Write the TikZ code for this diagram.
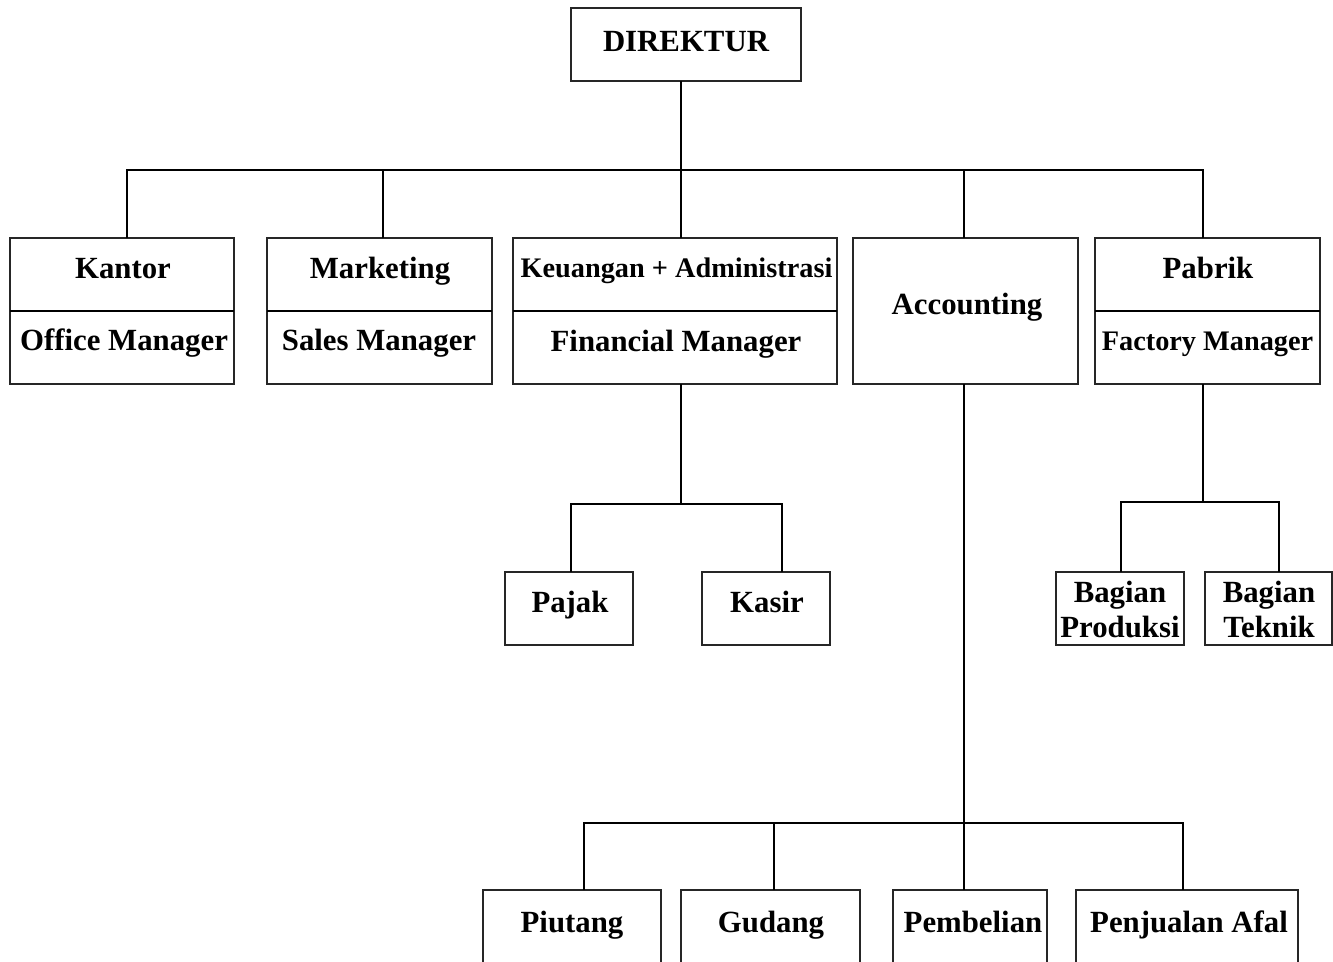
\documentclass[tikz,border=0pt]{standalone}
\usepackage{fontspec}
\setmainfont{Liberation Serif}
\begin{document}
\begin{tikzpicture}[x=1pt,y=-1pt,
  box/.style={draw=black!85,line width=1.8pt,inner sep=0pt,outer sep=0pt,rectangle},
  lbl/.style={anchor=base,inner sep=0pt,font=\fontsize{30.8}{35}\selectfont\bfseries},
  slbl/.style={anchor=base,inner sep=0pt,font=\fontsize{28.3}{33}\selectfont\bfseries},
  conn/.style={line width=1.8pt,black}]
\useasboundingbox (0,0) rectangle (1333,961);
\clip (0,0) rectangle (1333,961);
% boxes
\node[box,minimum width=230,minimum height=73] (dir) at (686,44.5) {};
\node[box,minimum width=224,minimum height=146] (kantor) at (122,311) {};
\node[box,minimum width=225,minimum height=146] (mkt) at (379.5,311) {};
\node[box,minimum width=324,minimum height=146] (keu) at (675,311) {};
\node[box,minimum width=225,minimum height=146] (acc) at (965.5,311) {};
\node[box,minimum width=225,minimum height=146] (pab) at (1207.5,311) {};
\node[box,minimum width=128,minimum height=73] (pajak) at (569,608.5) {};
\node[box,minimum width=128,minimum height=73] (kasir) at (766,608.5) {};
\node[box,minimum width=128,minimum height=73] (prod) at (1120,608.5) {};
\node[box,minimum width=127,minimum height=73] (tek) at (1268.5,608.5) {};
\node[box,minimum width=178,minimum height=110] (piu) at (572,945) {};
\node[box,minimum width=179,minimum height=110] (gud) at (770.5,945) {};
\node[box,minimum width=154,minimum height=110] (pem) at (970,945) {};
\node[box,minimum width=222,minimum height=110] (pen) at (1187,945) {};
% dividers
\draw[conn] (kantor.west) -- (kantor.east);
\draw[conn] (mkt.west) -- (mkt.east);
\draw[conn] (keu.west) -- (keu.east);
\draw[conn] (pab.west) -- (pab.east);
% labels
\node[lbl] (tdir) at (686,51) {DIREKTUR};
\node[lbl] (t1a) at (123,278) {Kantor};
\node[lbl] (t1b) at (124,350) {Office Manager};
\node[lbl] (t2a) at (380,278) {Marketing};
\node[lbl] (t2b) at (379,350) {Sales Manager};
\node[slbl] (t3a) at (676.5,277) {Keuangan + Administrasi};
\node[lbl] (t3b) at (676,351) {Financial Manager};
\node[lbl] (t4) at (967,314) {Accounting};
\node[lbl] (t5a) at (1208,278) {Pabrik};
\node[slbl] (t5b) at (1207.5,350) {Factory Manager};
\node[lbl] (tpj) at (570,612) {Pajak};
\node[lbl] (tks) at (767,612) {Kasir};
\node[lbl] (tpr1) at (1120,602) {Bagian};
\node[lbl] (tpr2) at (1120,637) {Produksi};
\node[lbl] (ttk1) at (1269,602) {Bagian};
\node[lbl] (ttk2) at (1269,637) {Teknik};
\node[lbl] (tpiu) at (572,932) {Piutang};
\node[lbl] (tgud) at (771,932) {Gudang};
\node[lbl] (tpem) at (973,932) {Pembelian};
\node[lbl] (tpen) at (1189,932) {Penjualan Afal};
% connectors: top level
\coordinate (bar1) at (0,170);
\draw[conn] ([xshift=-5]dir.south) -- ([xshift=-5]dir.south |- bar1);
\draw[conn] ([xshift=5]kantor.north) |- ([xshift=-4.5]pab.north |- bar1) -- ([xshift=-4.5]pab.north);
\draw[conn] ([xshift=3.5]mkt.north) -- ([xshift=3.5]mkt.north |- bar1);
\draw[conn] ([xshift=6]keu.north) -- ([xshift=6]keu.north |- bar1);
\draw[conn] ([xshift=-1.5]acc.north) -- ([xshift=-1.5]acc.north |- bar1);
% Keuangan children
\coordinate (bar2) at (0,504);
\draw[conn] ([xshift=6]keu.south) -- ([xshift=6]keu.south |- bar2);
\draw[conn] ([xshift=2]pajak.north) |- ([xshift=16]kasir.north |- bar2) -- ([xshift=16]kasir.north);
% Pabrik children
\coordinate (bar3) at (0,502);
\draw[conn] ([xshift=-4.5]pab.south) -- ([xshift=-4.5]pab.south |- bar3);
\draw[conn] ([xshift=1]prod.north) |- ([xshift=10.5]tek.north |- bar3) -- ([xshift=10.5]tek.north);
% Accounting children
\coordinate (bar4) at (0,823);
\draw[conn] ([xshift=-1.5]acc.south) -- ([xshift=-1.5]acc.south |- bar4);
\draw[conn] ([xshift=12]piu.north) |- ([xshift=-4]pen.north |- bar4) -- ([xshift=-4]pen.north);
\draw[conn] ([xshift=3.5]gud.north) -- ([xshift=3.5]gud.north |- bar4);
\draw[conn] ([xshift=-6]pem.north) -- ([xshift=-6]pem.north |- bar4);
\end{tikzpicture}
\end{document}
